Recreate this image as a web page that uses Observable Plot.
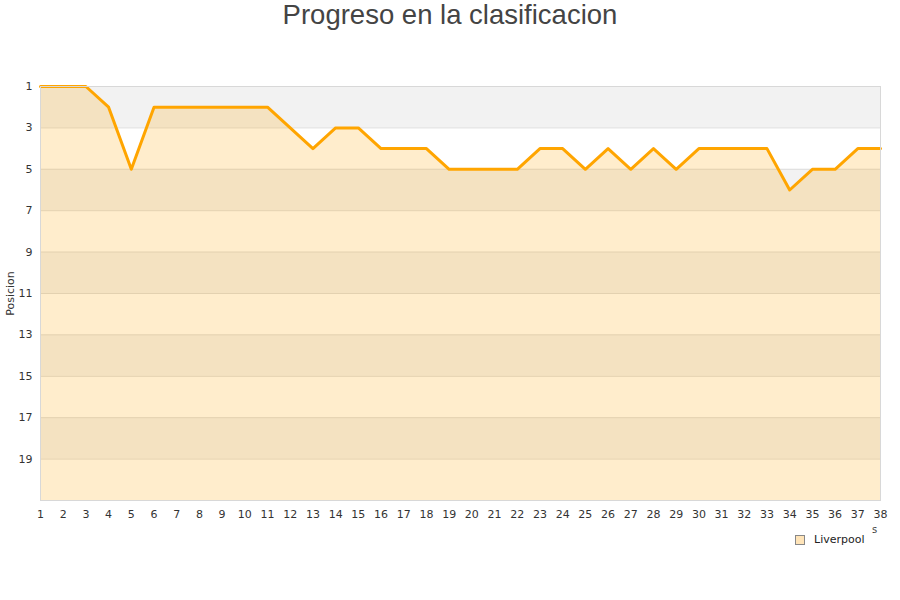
<!DOCTYPE html>
<html>
<head>
<meta charset="utf-8">
<script src="https://cdn.jsdelivr.net/npm/d3@7"></script>
<script src="https://cdn.jsdelivr.net/npm/@observablehq/plot@0.6"></script>
<style>
  body { margin: 0; background: #fff; width: 900px; height: 600px; overflow: hidden; }
  #title { height: 40px; line-height: 30px; text-align: center; font-family: "Liberation Sans", Arial, sans-serif; font-size: 27.5px; color: #444; }
  #chart svg { display: block; }
  #legend { position: absolute; left: 795px; top: 533px; font-family: "DejaVu Sans", sans-serif; font-size: 11px; color: #222; display: flex; align-items: center; }
  #legend .sw { width: 8px; height: 8px; background: #ffe4b8; border: 1px solid #888; margin-right: 9px; }
  #stray { position: absolute; left: 872px; top: 524px; font-family: "DejaVu Sans", sans-serif; font-size: 10px; color: #444; }
</style>
</head>
<body>
<div id="title">Progreso en la clasificacion</div>
<div id="chart"></div>
<div id="legend"><span class="sw"></span><span>Liverpool</span></div>
<div id="stray">s</div>
<script>
const team = "Liverpool";
const jornadas = d3.range(1, 39);
const posiciones = [1,1,1,2,5,2,2,2,2,2,2,3,4,3,3,4,4,4,5,5,5,5,4,4,5,4,5,4,5,4,4,4,4,6,5,5,4,4];
const yTicks = [1,3,5,7,9,11,13,15,17,19];
const gridLines = [3,5,7,9,11,13,15,17,19];
const bandStarts = [1,5,9,13,17];
const lastPosition = 21;

const data = jornadas.map((j, i) => ({jornada: j, posicion: posiciones[i]}));
const bands = bandStarts.map(s => ({y1: s, y2: s + 2}));

const chart = Plot.plot({
  width: 900,
  height: 490,
  marginTop: 46,
  marginBottom: 30,
  marginLeft: 40,
  marginRight: 20,
  style: {fontFamily: "DejaVu Sans, sans-serif", fontSize: "11px", color: "#333", background: "transparent"},
  x: {domain: [1, 38], ticks: jornadas, tickSize: 0, tickPadding: 10, label: null, tickFormat: d => d},
  y: {domain: [1, lastPosition], reverse: true, ticks: yTicks, tickSize: 0, tickPadding: 8, label: null, tickFormat: d => d},
  marks: [
    Plot.rect(bands, {y1: "y1", y2: "y2", fill: "#f2f2f2"}),
    Plot.ruleY(gridLines, {stroke: "#dddddd"}),
    Plot.areaY(data, {x: "jornada", y1: () => lastPosition, y2: "posicion", fill: "#ffa500", fillOpacity: 0.2}),
    Plot.lineY(data, {x: "jornada", y: "posicion", stroke: "#ffa500", strokeWidth: 3}),
    Plot.frame({stroke: "#d8d8d8"}),
    Plot.axisX({ticks: jornadas, tickSize: 0, tickPadding: 10, label: null, tickFormat: d => d}),
    Plot.axisY({ticks: yTicks, tickSize: 0, tickPadding: 8, label: null, tickFormat: d => d}),
    Plot.text([team].map(() => "Posicion"), {frameAnchor: "left", textAnchor: "middle", dx: -30, rotate: -90, fontSize: 11, fill: "#333"})
  ]
});
document.getElementById("chart").appendChild(chart);
</script>
</body>
</html>
